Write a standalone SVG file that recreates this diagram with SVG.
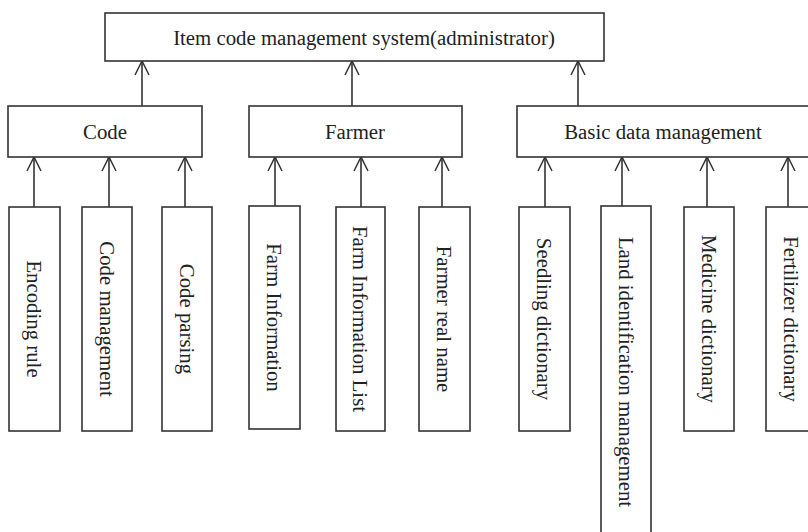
<svg xmlns="http://www.w3.org/2000/svg" width="808" height="532" viewBox="0 0 808 532">
<defs>
<marker id="arr" markerUnits="userSpaceOnUse" markerWidth="20" markerHeight="20" viewBox="-16 -10 20 20" refX="0" refY="0" orient="auto" overflow="visible">
<path d="M-14,-7 L0,0 L-14,7" fill="none" stroke="#333" stroke-width="1.5"/>
</marker>
</defs>
<style>
.box{fill:#fff;stroke:#333;stroke-width:1.6}
.t{font-family:"Liberation Serif","Times New Roman",serif;font-size:20.8px;fill:#222;text-anchor:middle;dominant-baseline:central}
.c{stroke:#333;stroke-width:1.6;fill:none}
</style>
<rect width="808" height="532" fill="#fff"/>
<g id="connectors">
<line class="c" x1="142" y1="106" x2="142" y2="61" marker-end="url(#arr)"/>
<line class="c" x1="352" y1="106" x2="352" y2="61" marker-end="url(#arr)"/>
<line class="c" x1="578" y1="106" x2="578" y2="61" marker-end="url(#arr)"/>
<line class="c" x1="34" y1="207" x2="34" y2="157" marker-end="url(#arr)"/>
<line class="c" x1="109" y1="207" x2="109" y2="157" marker-end="url(#arr)"/>
<line class="c" x1="185" y1="207" x2="185" y2="157" marker-end="url(#arr)"/>
<line class="c" x1="275" y1="206" x2="275" y2="157" marker-end="url(#arr)"/>
<line class="c" x1="361" y1="207" x2="361" y2="157" marker-end="url(#arr)"/>
<line class="c" x1="442" y1="207" x2="442" y2="157" marker-end="url(#arr)"/>
<line class="c" x1="545" y1="207" x2="545" y2="157" marker-end="url(#arr)"/>
<line class="c" x1="622" y1="206" x2="622" y2="157" marker-end="url(#arr)"/>
<line class="c" x1="707" y1="207" x2="707" y2="157" marker-end="url(#arr)"/>
<line class="c" x1="788" y1="207" x2="788" y2="157" marker-end="url(#arr)"/>
</g>
<g id="root">
<rect class="box" x="105" y="13" width="499" height="48"/>
<text class="t" x="364" y="37">Item code management system(administrator)</text>
</g>
<g id="code">
<rect class="box" x="8" y="106" width="194" height="51"/>
<text class="t" x="105" y="131">Code</text>
</g>
<g id="farmer">
<rect class="box" x="249" y="106" width="213" height="51"/>
<text class="t" x="355" y="131">Farmer</text>
</g>
<g id="basic">
<rect class="box" x="517" y="106" width="300" height="51"/>
<text class="t" x="663" y="131">Basic data management</text>
</g>
<g id="encoding-rule">
<rect class="box" x="9" y="207" width="51" height="224"/>
<text class="t" transform="translate(34.5,319) rotate(90)">Encoding rule</text>
</g>
<g id="code-management">
<rect class="box" x="82" y="207" width="50" height="224"/>
<text class="t" transform="translate(107,319) rotate(90)">Code management</text>
</g>
<g id="code-parsing">
<rect class="box" x="162" y="207" width="50" height="224"/>
<text class="t" transform="translate(187,319) rotate(90)">Code parsing</text>
</g>
<g id="farm-information">
<rect class="box" x="249" y="206" width="51" height="223"/>
<text class="t" transform="translate(274.5,317.5) rotate(90)">Farm Information</text>
</g>
<g id="farm-information-list">
<rect class="box" x="336" y="207" width="49" height="224"/>
<text class="t" transform="translate(360.5,319) rotate(90)">Farm Information List</text>
</g>
<g id="farmer-real-name">
<rect class="box" x="419" y="207" width="51" height="224"/>
<text class="t" transform="translate(444.5,319) rotate(90)">Farmer real name</text>
</g>
<g id="seedling-dictionary">
<rect class="box" x="519" y="207" width="51" height="224"/>
<text class="t" transform="translate(544.5,319) rotate(90)">Seedling dictionary</text>
</g>
<g id="land-identification-management">
<rect class="box" x="601" y="206" width="50" height="340"/>
<text class="t" transform="translate(626,372) rotate(90)">Land identification management</text>
</g>
<g id="medicine-dictionary">
<rect class="box" x="684" y="207" width="50" height="224"/>
<text class="t" transform="translate(709,319) rotate(90)">Medicine dictionary</text>
</g>
<g id="fertilizer-dictionary">
<rect class="box" x="766" y="207" width="51" height="224"/>
<text class="t" transform="translate(791.5,319) rotate(90)">Fertilizer dictionary</text>
</g>
</svg>
